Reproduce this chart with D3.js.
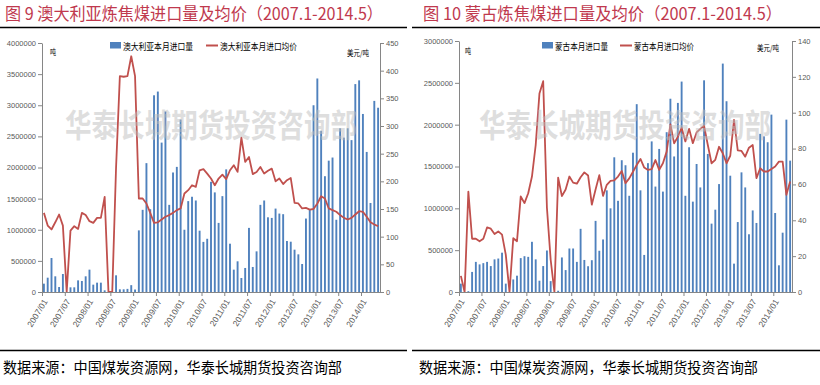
<!DOCTYPE html>
<html>
<head>
<meta charset="utf-8">
<script src="https://cdn.jsdelivr.net/npm/d3@7"></script>
<style>
  body{margin:0;background:#fff}
  svg{display:block}
  .cjk{font-family:"Noto Sans CJK SC",sans-serif}
  .num{font-family:"Liberation Sans",Arial,sans-serif}
</style>
</head>
<body>
<svg id="chart" width="820" height="385"></svg>
<script>
'use strict'

// x categories: 2007/01 .. 2014/05 (89 months), labelled every 6 months
const tickLabels = ["2007/01","2007/07","2008/01","2008/07","2009/01","2009/07","2010/01","2010/07",
  "2011/01","2011/07","2012/01","2012/07","2013/01","2013/07","2014/01"]

// Australia coking coal imports (tonnes) and average price (USD/t)
const ausVolume = [
  134000,230000,546000,252000,80000,289000,0,75000,75000,187000,
  177000,252000,359000,118000,150000,150000,27000,0,0,268000,
  43000,43000,50000,110000,40000,990000,1320000,2070000,1330000,3160000,
  3220000,2400000,2900000,1400000,1920000,2010000,2770000,1000000,1460000,1530000,
  1470000,985000,805000,855000,1770000,1600000,1110000,1540000,1970000,776000,
  359000,493000,225000,386000,1030000,402000,653000,1400000,1470000,1200000,
  1190000,1340000,1260000,1250000,819000,808000,680000,605000,450000,1180000,
  1320000,3000000,3430000,2590000,1860000,2110000,2160000,1160000,2630000,2480000,
  2630000,2440000,3340000,3400000,2860000,2250000,1430000,3070000,2960000]
const ausPrice = [
  143,120,113,126,140,120,0,111,119,114,
  143,139,128,125,134,134,172,0,0,225,
  390,389,390,426,390,169,169,160,143,125,
  126,131,136,139,143,148,151,178,184,193,
  190,220,222,214,205,193,205,212,204,220,
  229,217,279,235,244,213,217,226,214,219,
  223,200,205,195,202,206,161,160,151,152,
  149,150,160,173,169,151,148,145,139,134,
  131,134,140,146,145,136,126,122,119]

// Mongolia coking coal imports (tonnes) and average price (USD/t)
const mngVolume = [
  100000,0,10000,240000,360000,330000,345000,360000,310000,390000,
  400000,470000,100000,0,150000,195000,405000,428000,420000,600000,
  390000,135000,310000,496000,130000,0,15000,413000,262000,520000,
  520000,360000,755000,383000,308000,380000,850000,493000,628000,1215000,
  1000000,1610000,1090000,1575000,1515000,1150000,1665000,2245000,1215000,443000,
  1540000,1800000,1260000,1710000,1200000,1910000,2310000,1620000,2260000,2515000,
  1150000,1730000,1080000,1530000,1250000,2530000,1650000,817000,984000,1290000,
  2730000,2280000,1390000,339000,836000,1430000,1250000,690000,975000,825000,
  1890000,1860000,1790000,2120000,944000,319000,709000,2060000,1570000]
const mngPrice = [
  9,0,56,29.7,29.7,28.3,29.7,36,35.3,32.3,
  33.8,32,20.8,0,30,28.3,53.3,49.6,55.1,64.4,
  82,110.7,117.6,47,18,0,63.8,53.5,57.2,64.4,
  61,60.4,64,66.7,65,48.7,57.2,65.2,53.6,59.8,
  62,62.3,64.4,67.5,60.7,63.4,67.1,70.8,74.2,69.4,
  68.1,68.5,73.6,68.1,71.8,78.3,93.5,82.9,86.6,91.6,
  84,91,83,89,91,92.7,82,71.8,73.7,81,
  77.4,71.8,76,96,79,78.7,75.5,80.5,82,63.5,
  69,67.2,67.2,68.6,70,72.7,72.7,54.2,61.6]

const BAR = "#4f81bd", LINE = "#c0504d", AXIS = "#868686", LABEL = "#595959"
const SOURCE = "数据来源：中国煤炭资源网，华泰长城期货投资咨询部"
const WATERMARK = "华泰长城期货投资咨询部"

const svg = d3.select("#chart")
svg.append("rect").attr("width",820).attr("height",385).attr("fill","#fff")

function styleAxis(g){
  g.attr("font-family",null).attr("font-size",null)
  g.select(".domain").attr("stroke",AXIS)
  g.selectAll(".tick line").attr("stroke",AXIS)
  g.selectAll(".tick text").attr("class","num").attr("fill",LABEL).attr("font-size",7.5)
}

function drawPanel(p){
  const g = svg.append("g")

  g.append("text").attr("class","cjk").attr("x",p.titleX).attr("y",20)
    .attr("font-size",17).attr("fill","#c0394e")
    .attr("textLength",p.titleLen).attr("lengthAdjust","spacingAndGlyphs")
    .text(p.title)
  g.append("line").attr("x1",p.ruleX0).attr("x2",p.ruleX1).attr("y1",27.5).attr("y2",27.5)
    .attr("stroke","#000").attr("stroke-width",1.3)
  g.append("line").attr("x1",p.ruleX0).attr("x2",p.ruleX1).attr("y1",350.5).attr("y2",350.5)
    .attr("stroke","#000").attr("stroke-width",1.3)
  g.append("text").attr("class","cjk").attr("x",p.sourceX).attr("y",373)
    .attr("font-size",15).attr("fill","#000")
    .attr("textLength",339).attr("lengthAdjust","spacingAndGlyphs")
    .text(SOURCE)

  const n = p.volume.length
  const x = d3.scaleLinear().domain([0,n]).range([p.left,p.right])
  const yV = d3.scaleLinear().domain([0,p.volMax]).range([p.bottom,p.top])
  const yP = d3.scaleLinear().domain([0,p.priceMax]).range([p.bottom,p.top])
  const barW = (x(1)-x(0))*0.5

  g.append("g").selectAll("rect").data(p.volume).join("rect")
    .attr("x",(d,i)=>x(i+0.5)-barW/2)
    .attr("y",d=>yV(d))
    .attr("width",barW)
    .attr("height",d=>yV(0)-yV(d))
    .attr("fill",BAR)

  g.append("path").datum(p.price)
    .attr("d",d3.line().x((d,i)=>x(i+0.5)).y(d=>yP(d)))
    .attr("fill","none").attr("stroke",LINE).attr("stroke-width",1.8)
    .attr("stroke-linejoin","round")

  g.append("g").attr("transform",`translate(${p.left},0)`)
    .call(d3.axisLeft(yV).tickValues(d3.range(0,p.volMax+1,p.volStep))
      .tickFormat(d3.format("d")).tickSize(4).tickSizeOuter(0).tickPadding(2))
    .call(styleAxis)

  g.append("g").attr("transform",`translate(${p.right},0)`)
    .call(d3.axisRight(yP).tickValues(d3.range(0,p.priceMax+1,p.priceStep))
      .tickFormat(d3.format("d")).tickSize(4).tickSizeOuter(0).tickPadding(2))
    .call(styleAxis)

  g.append("g").attr("transform",`translate(0,${p.bottom})`)
    .call(d3.axisBottom(x).tickValues(d3.range(0,85,6))
      .tickFormat((d,k)=>tickLabels[k]).tickSize(4).tickSizeOuter(0))
    .call(styleAxis)
    .selectAll(".tick text")
      .attr("font-size",8.5).attr("y",0).attr("dy","0.35em")
      .attr("text-anchor","end")
      .attr("transform","translate(3,8) rotate(-58)")

  // legend
  const lg = p.legend
  g.append("rect").attr("x",lg.rectX).attr("y",42).attr("width",11).attr("height",6.5).attr("fill",BAR)
  g.append("text").attr("class","cjk").attr("x",lg.rectX+13).attr("y",49.5).attr("font-size",9)
    .attr("textLength",lg.len1).attr("lengthAdjust","spacingAndGlyphs").text(lg.name1)
  g.append("line").attr("x1",lg.lineX).attr("x2",lg.lineX+12).attr("y1",45.5).attr("y2",45.5)
    .attr("stroke",LINE).attr("stroke-width",2)
  g.append("text").attr("class","cjk").attr("x",lg.lineX+14).attr("y",49.5).attr("font-size",9)
    .attr("textLength",lg.len2).attr("lengthAdjust","spacingAndGlyphs").text(lg.name2)

  // unit labels
  g.append("text").attr("class","cjk").attr("x",p.unitL[0]).attr("y",p.unitL[1]).attr("font-size",8)
    .attr("textLength",6).attr("lengthAdjust","spacingAndGlyphs").text("吨")
  g.append("text").attr("class","cjk").attr("x",p.unitR[0]).attr("y",p.unitR[1]).attr("font-size",8)
    .attr("textLength",22).attr("lengthAdjust","spacingAndGlyphs").text("美元/吨")

  // watermark: 32px glyphs squeezed horizontally to the 292px the reference shows
  g.append("text").attr("class","cjk")
    .attr("transform",`translate(${p.wmX},137) scale(0.83,1)`)
    .attr("font-size",32).attr("font-weight",700).attr("fill","#bdbdbd").attr("fill-opacity",0.5)
    .text(WATERMARK)
}

drawPanel({
  title:"图 9 澳大利亚炼焦煤进口量及均价（2007.1-2014.5）",
  titleX:5, titleLen:378, ruleX0:0, ruleX1:407, sourceX:3,
  left:42, right:380, top:43, bottom:292,
  volume:ausVolume, price:ausPrice,
  volMax:4000000, volStep:500000, priceMax:450, priceStep:50,
  legend:{rectX:110, name1:"澳大利亚本月进口量", len1:70, lineX:206, name2:"澳大利亚本月进口均价", len2:77},
  unitL:[50,55], unitR:[347,56], wmX:65
})

drawPanel({
  title:"图 10 蒙古炼焦煤进口量及均价（2007.1-2014.5）",
  titleX:423, titleLen:359, ruleX0:412, ruleX1:820, sourceX:419,
  left:459, right:792, top:41, bottom:292,
  volume:mngVolume, price:mngPrice,
  volMax:3000000, volStep:500000, priceMax:140, priceStep:20,
  legend:{rectX:542, name1:"蒙古本月进口量", len1:53, lineX:620, name2:"蒙古本月进口均价", len2:60},
  unitL:[465,54], unitR:[757,51], wmX:479
})
</script>
</body>
</html>
